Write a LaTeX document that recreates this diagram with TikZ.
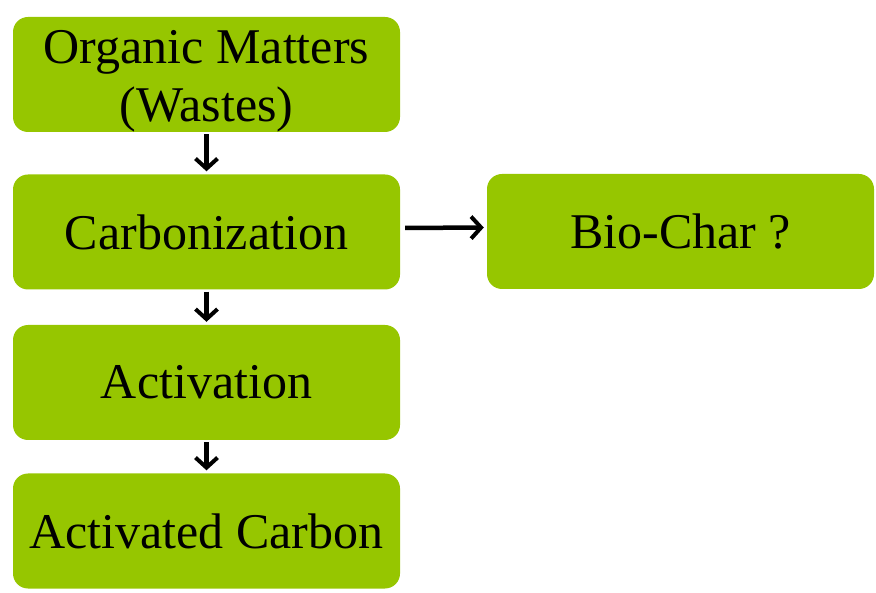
\documentclass[tikz,border=0pt]{standalone}
\usepackage{fontspec}
\setmainfont{Liberation Serif}
\usetikzlibrary{arrows.meta}
\definecolor{boxgreen}{HTML}{96C600}
\begin{document}
\begin{tikzpicture}[x=1pt,y=-1pt,
  stepbox/.style={fill=boxgreen, rounded corners=15pt, minimum width=387pt, minimum height=115pt,
    inner sep=0pt, align=center, font=\fontsize{50}{58}\selectfont},
  flow/.style={draw=black, line width=4.5pt, -{Straight Barb[length=10pt,width=22pt,line width=4pt]}}]
\useasboundingbox (0,0) rectangle (876,593);
\node[stepbox] (om) at (206.5,74.5) {};
\node[font=\fontsize{50}{58}\selectfont, align=center, inner sep=0pt] (omt) at (206.5,81) {Organic Matters\\(Wastes)};
\node[stepbox] (carb) at (206.5,232) {Carbonization};
\node[stepbox] (act) at (206.5,382.5) {Activation};
\node[stepbox] (ac) at (206.5,531) {Activated Carbon};
\node[stepbox] (bio) at (680.5,231.5) {Bio-Char ?};
\draw[flow, shorten <=2pt, shorten >=3pt] (om.south) -- (carb.north);
\draw[flow, shorten <=2pt, shorten >=3pt] (carb.south) -- (act.north);
\draw[flow, shorten <=2pt, shorten >=3pt] (act.south) -- (ac.north);
\draw[flow, shorten <=5pt, shorten >=3pt] ([yshift=4pt]carb.east) -- ([yshift=4pt]bio.west);
\end{tikzpicture}
\end{document}
